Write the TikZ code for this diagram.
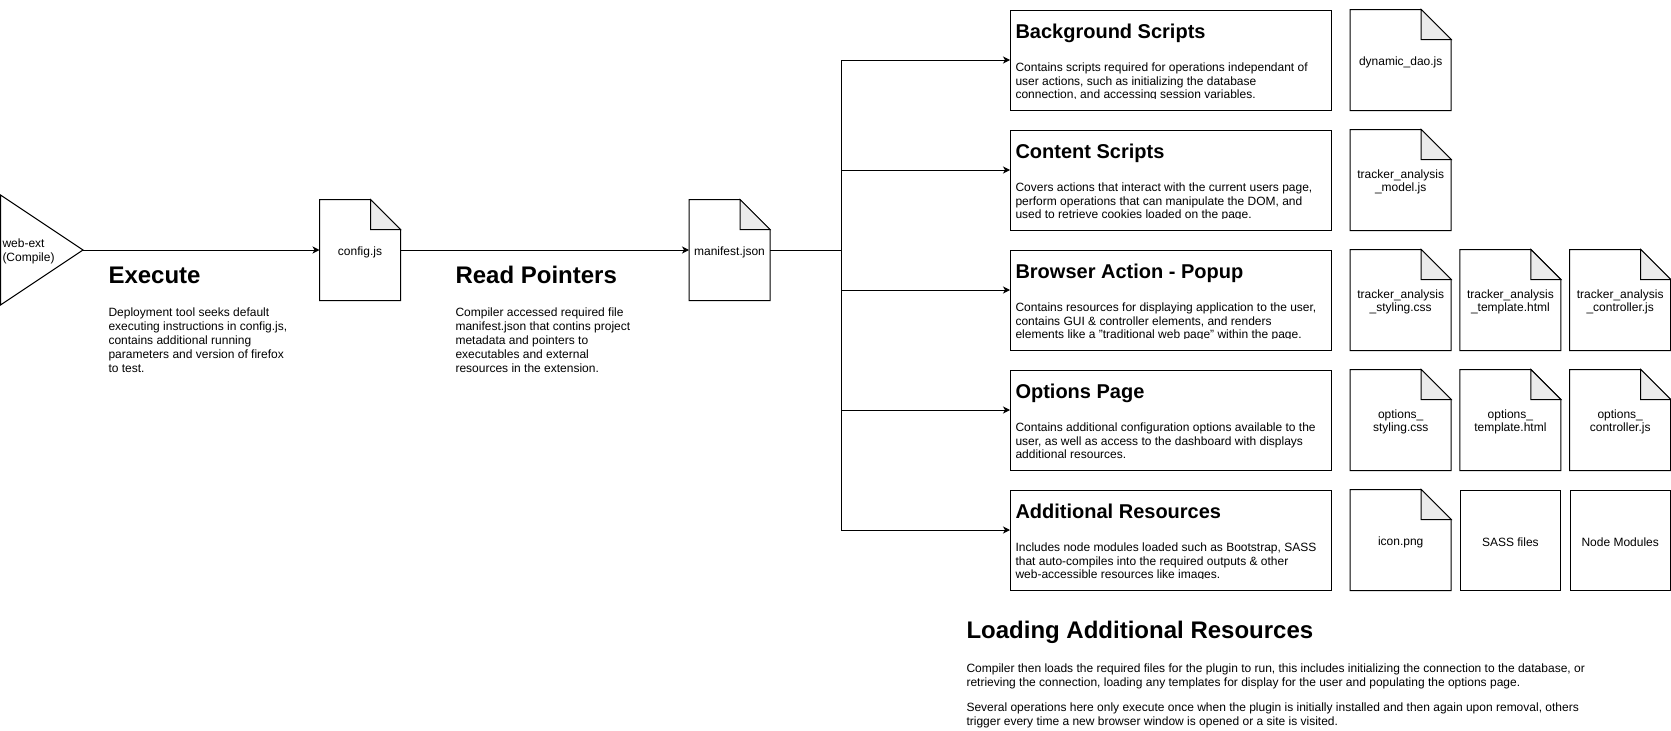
\documentclass[tikz,border=0pt]{standalone}
\usepackage{fontspec}
\setmainfont{Liberation Sans}
\usetikzlibrary{arrows.meta}
\definecolor{foldgray}{RGB}{235,235,235}

\begin{document}
\begin{tikzpicture}[x=1pt,y=-1pt,line width=1pt,
    arr/.style={-{Stealth[length=7pt,width=7pt,inset=2pt]}},
    head/.style={anchor=base west,inner sep=0pt,font=\fontsize{24}{28}\selectfont\bfseries},
    subhead/.style={anchor=base west,inner sep=0pt,font=\fontsize{20}{24}\selectfont\bfseries},
    body/.style={anchor=north west,inner sep=0pt,align=left,font=\fontsize{12}{14}\selectfont},
    boxbody/.style={body,font=\fontsize{12}{13.6}\selectfont},
    txtbox/.style={draw,minimum width=320.7pt,minimum height=100pt,inner sep=0pt,anchor=west},
    filetext/.style={yshift=-2pt,inner sep=0pt,align=center,font=\fontsize{12}{13.5}\selectfont},
    filebox/.style={minimum width=100pt,minimum height=100pt,inner sep=0pt,label={[filetext]center:{#1}}},
    plainbox/.style={filebox={#1},draw}]
    \useasboundingbox (0,0) rectangle (1671,731);
    % web-ext
    \draw (0.5,195) -- (83,250) -- (0.5,305) -- cycle;
    \coordinate (apex) at (83,250);
    \node[anchor=west,inner sep=0pt,align=left,font=\fontsize{12}{14}\selectfont] (webext) at (2,251) {web-ext\\(Compile)};
    % files
    \node[filebox={config.js},minimum width=80pt] (cfg) at (360,250) {};
    \node[filebox={manifest.json},minimum width=80pt] (mani) at (729.5,250) {};
    \node[filebox={dynamic\_dao.js}] (dao) at (1400.7,60) {};
    \node[filebox={tracker\_analysis\\\_model.js}] (model) at (1400.7,180) {};
    \node[filebox={tracker\_analysis\\\_styling.css}] (tstyle) at (1400.7,300) {};
    \node[filebox={tracker\_analysis\\\_template.html}] (ttempl) at (1510.4,300) {};
    \node[filebox={tracker\_analysis\\\_controller.js}] (tctrl) at (1620.2,300) {};
    \node[filebox={options\_\\styling.css}] (ostyle) at (1400.7,420) {};
    \node[filebox={options\_\\template.html}] (otempl) at (1510.4,420) {};
    \node[filebox={options\_\\controller.js}] (octrl) at (1620.2,420) {};
    \node[filebox={icon.png}] (icon) at (1400.7,540) {};
    \node[plainbox={SASS files}] (sass) at (1510.4,540) {};
    \node[plainbox={Node Modules}] (nodemod) at (1620.2,540) {};
    \foreach \f in {cfg,mani,dao,model,tstyle,ttempl,tctrl,ostyle,otempl,octrl,icon}{
        \draw (\f.south west) -- (\f.north west) -- ([xshift=-30pt]\f.north east) -- ([yshift=-30pt]\f.north east) -- (\f.south east) -- cycle;
        \draw[fill=foldgray] ([xshift=-30pt]\f.north east) -- ([xshift=-30pt,yshift=-30pt]\f.north east) -- ([yshift=-30pt]\f.north east) -- cycle;
    }
    % sections
    \node[txtbox] (bg) at (1010,60) {};
    \node[txtbox] (cs) at (1010,180) {};
    \node[txtbox] (ba) at (1010,300) {};
    \node[txtbox] (op) at (1010,420) {};
    \node[txtbox] (ar) at (1010,540) {};
    \foreach \bx/\hd/\tx in {
        bg/Background Scripts/{Contains scripts required for operations independant of\\user actions, such as initializing the database\\connection, and accessing session variables.},
        cs/Content Scripts/{Covers actions that interact with the current users page,\\perform operations that can manipulate the DOM, and\\used to retrieve cookies loaded on the page.},
        ba/Browser Action - Popup/{Contains resources for displaying application to the user,\\contains GUI \& controller elements, and renders\\elements like a "traditional web page" within the page.},
        op/Options Page/{Contains additional configuration options available to the\\user, as well as access to the dashboard with displays\\additional resources.},
        ar/Additional Resources/{Includes node modules loaded such as Bootstrap, SASS\\that auto-compiles into the required outputs \& other\\web-accessible resources like images.}}{
        \node[subhead] (\bx-head) at ([xshift=5pt,yshift=-28.9pt]\bx.north west) {\hd};
        \begin{scope}
            \clip (\bx.north west) rectangle ([yshift=-89pt]\bx.north east);
            \node[boxbody] (\bx-text) at ([xshift=5pt,yshift=-53pt]\bx.north west) {\tx};
        \end{scope}
    }
    % arrows
    \draw[arr] (apex) -- (cfg.west);
    \draw[arr] (cfg.east) -- (mani.west);
    \coordinate (bus) at (841,250);
    \draw (mani.east) -- (bus);
    \draw[arr] (bus) |- (bg.west);
    \foreach \bx in {cs,ba,op,ar} \draw[arr] (bus) |- ([yshift=10pt]\bx.west);
    % steps
    \node[head] (exechead) at (108,283.6) {Execute};
    \node[body] (exectext) at (108,307.3) {Deployment tool seeks default\\executing instructions in config.js,\\contains additional running\\parameters and version of firefox\\to test.};
    \node[head] (readhead) at (455,283.6) {Read Pointers};
    \node[body] (readtext) at (455,307.3) {Compiler accessed required file\\manifest.json that contins project\\metadata and pointers to\\executables and external\\resources in the extension.};
    \node[head] (loadhead) at (966,638.6) {Loading Additional Resources};
    \node[body] (loadtexta) at (966,662.8) {Compiler then loads the required files for the plugin to run, this includes initializing the connection to the database, or\\retrieving the connection, loading any templates for display for the user and populating the options page.};
    \node[body] (loadtextb) at (966,702.3) {Several operations here only execute once when the plugin is initially installed and then again upon removal, others\\trigger every time a new browser window is opened or a site is visited.};
\end{tikzpicture}
\end{document}
